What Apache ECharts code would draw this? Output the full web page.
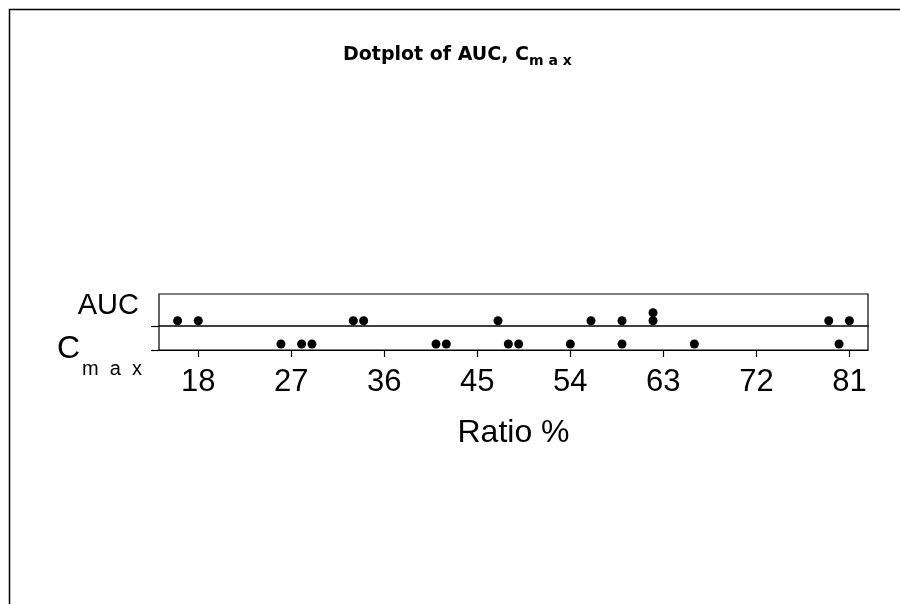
<!DOCTYPE html>
<html><head><meta charset="utf-8">
<script src="https://cdn.jsdelivr.net/npm/echarts@6/dist/echarts.min.js"></script>
<style>html,body{margin:0;padding:0;background:#fff}#c{width:900px;height:604px}</style>
</head><body><div id="c"></div>
<script>
const groupNames = ['AUC', 'Cmax'];
const aucValues = [16, 18, 33, 34, 47, 56, 59, 62, 62, 79, 81];
const cmaxValues = [26, 28, 29, 41, 42, 48, 49, 54, 59, 66, 80];
const xTicks = [18, 27, 36, 45, 54, 63, 72, 81];
const xMin = 14.2, xMax = 82.8;

// dotplot stacking: level = number of earlier equal values
function stack(vals) {
  const seen = {};
  return vals.map(v => { const k = seen[v] || 0; seen[v] = k + 1; return [v, k]; });
}

const F = '"Liberation Sans", Arial, sans-serif';
const D = '"DejaVu Sans", sans-serif';
const chart = echarts.init(document.getElementById('c'), null, {renderer: 'canvas'});
chart.setOption({
  animation: false,
  backgroundColor: '#fff',
  title: {
    text: '{a|Dotplot of AUC, C}{b|m a x}', left: 343, top: 42, padding: 0,
    textStyle: { rich: {
      a: {fontFamily: D, fontWeight: 'bold', fontSize: 19, color: '#000'},
      b: {fontFamily: D, fontWeight: 'bold', fontSize: 14, color: '#000', padding: [12, 0, 0, 0]}
    }}
  },
  graphic: [{
    type: 'polyline', shape: {points: [[9.5, 604], [9.5, 9.5], [900, 9.5]]},
    style: {stroke: '#000', lineWidth: 1.5, fill: null}, silent: true
  }],
  grid: [
    {left: 159, right: 32, top: 294, height: 32, show: true, borderColor: '#000', borderWidth: 1.2},
    {left: 159, right: 32, top: 326, height: 24, show: true, borderColor: '#000', borderWidth: 1.2}
  ],
  xAxis: [
    {gridIndex: 0, type: 'value', min: xMin, max: xMax, show: false},
    {gridIndex: 1, type: 'value', min: xMin, max: xMax, splitLine: {show: false},
     axisLine: {show: true, onZero: false, lineStyle: {color: '#000', width: 1.2}},
     axisTick: {show: true, customValues: xTicks, length: 7, lineStyle: {color: '#000', width: 1.2}},
     axisLabel: {customValues: xTicks, margin: 17, fontSize: 31, fontFamily: F, color: '#000'},
     name: 'Ratio %', nameLocation: 'middle', nameGap: 67,
     nameTextStyle: {fontSize: 32, fontFamily: F, color: '#000'}}
  ],
  yAxis: [
    {gridIndex: 0, type: 'value', min: -0.66, max: 3.34, splitLine: {show: false},
     axisLabel: {show: false}, axisTick: {show: false}, axisLine: {show: false},
     name: '{a|' + groupNames[0] + '}', nameLocation: 'middle', nameRotate: 0, nameGap: 20,
     nameTextStyle: {rich: {
       a: {fontSize: 29, fontFamily: F, color: '#000', padding: [0, 0, 8, 0]}
     }}},
    {gridIndex: 1, type: 'value', min: -0.75, max: 2.25, splitLine: {show: false},
     axisLabel: {show: false}, axisLine: {show: false},
     axisTick: {show: true, customValues: [-0.75, 2.25], length: 8, lineStyle: {color: '#000', width: 1.2}},
     name: '{c|C}{s|m  a  x}', nameLocation: 'middle', nameRotate: 0, nameGap: 17,
     nameTextStyle: {padding: [22, 0, 0, 0], rich: {
       c: {fontSize: 32, fontFamily: F, color: '#000'},
       s: {fontSize: 20, fontFamily: F, color: '#000', padding: [40, 0, 0, 2]}
     }}}
  ],
  series: [
    {type: 'scatter', name: groupNames[0], xAxisIndex: 0, yAxisIndex: 0, data: stack(aucValues),
     symbol: 'circle', symbolSize: 9, itemStyle: {color: '#000', opacity: 1}},
    {type: 'scatter', name: groupNames[1], xAxisIndex: 1, yAxisIndex: 1, data: stack(cmaxValues),
     symbol: 'circle', symbolSize: 9, itemStyle: {color: '#000', opacity: 1}}
  ]
});
</script></body></html>
